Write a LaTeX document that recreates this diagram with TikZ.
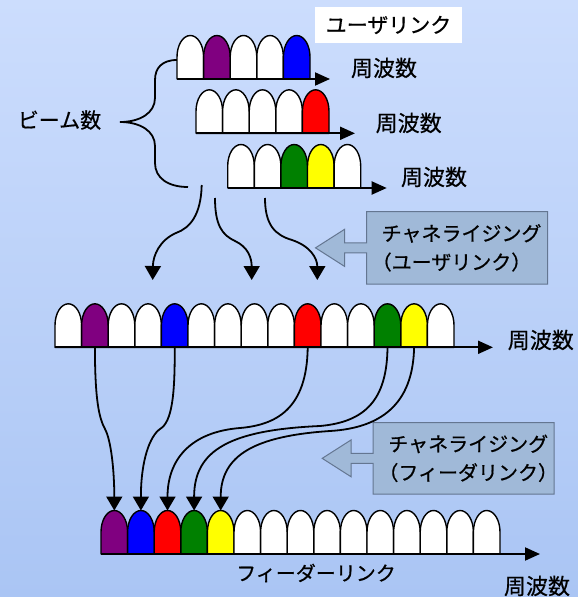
\documentclass[tikz,border=0pt]{standalone}
\usepackage{fontspec}
\setmainfont{Noto Sans CJK JP}[FakeBold=0.6]
\usetikzlibrary{arrows.meta,calc}
\definecolor{bgtop}{RGB}{204,221,253}
\definecolor{bgbot}{RGB}{170,197,244}
\definecolor{cpurple}{RGB}{128,0,128}
\definecolor{cblue}{RGB}{0,0,255}
\definecolor{cred}{RGB}{255,0,0}
\definecolor{cgreen}{RGB}{0,128,0}
\definecolor{cyellow}{RGB}{255,255,0}
\definecolor{callfill}{RGB}{160,185,216}
\definecolor{callline}{RGB}{100,118,145}
\newcommand\fsz[1]{\fontsize{#1}{#1}\selectfont}
\begin{document}
\begin{tikzpicture}[x=1pt,y=-1pt,
  pics/bump/.style={code={
    \path[draw=black,line width=1.4pt,fill=#1,line join=round]
      (0,0) -- (0,-22) .. controls (0,-34) and (6,-43.5) .. (13.3,-43.5)
      .. controls (20.6,-43.5) and (26.6,-34) .. (26.6,-22) -- (26.6,0) -- cycle;
    \coordinate (-top) at (13.3,-43.5);
    \coordinate (-bot) at (13.3,0);
  }},
  axisarrow/.style={line width=2pt,-{Triangle[width=13pt,length=15pt]}},
  conn/.style={line width=1.8pt,-{Triangle[width=16pt,length=14pt]}},
  lbl/.style={font=\fsz{22},inner sep=0pt},
  callbox/.style={minimum width=180.6pt,minimum height=72pt,inner sep=0pt},
  callshape/.style={fill=callfill,draw=callline,line width=1pt,line join=miter},
  calltext/.style={font={\fontsize{20}{28.7}\selectfont},align=left,inner sep=0pt,anchor=west},
]
\useasboundingbox (0,0) rectangle (578,597);
\shade[top color=bgtop,bottom color=bgbot] (0,0) rectangle (578,597);

% brace
\coordinate (brT) at (177,60);
\coordinate (brM) at (120,122);
\coordinate (brB) at (188,187);
\draw[line width=1.8pt] (brT) .. controls (162,60) and (155,68) .. (155,80) -- (155,98)
  .. controls (155,113) and (140,122) .. (brM)
  .. controls (140,122) and (155,131) .. (155,146) -- (155,163)
  .. controls (155,178) and (168,187) .. (brB);
\node[lbl,font=\fsz{21}] (beam) at (59.5,120) {ビーム数};

% user link rows
\foreach \c [count=\i from 0] in {white,cpurple,white,white,cblue}
  \pic (ua\i) at ({177+26.6*\i},79) {bump=\c};
\coordinate (a1s) at (177,79); \coordinate (a1e) at (330,79);
\draw[axisarrow] (a1s) -- (a1e);
\foreach \c [count=\i from 0] in {white,white,white,white,cred}
  \pic (ub\i) at ({196+26.6*\i},133.3) {bump=\c};
\coordinate (a2s) at (196,133.3); \coordinate (a2e) at (355,133.3);
\draw[axisarrow] (a2s) -- (a2e);
\foreach \c [count=\i from 0] in {white,white,cgreen,cyellow,white}
  \pic (uc\i) at ({227.7+26.6*\i},188) {bump=\c};
\coordinate (a3s) at (227.7,188); \coordinate (a3e) at (386.7,188);
\draw[axisarrow] (a3s) -- (a3e);

\node[fill=white,minimum width=147pt,minimum height=36pt,inner sep=0pt,font=\fsz{21}] (ul) at (388.5,25) {ユーザリンク};
\node[lbl] (f1) at (384,68) {周波数};
\node[lbl] (f2) at (408.7,123) {周波数};
\node[lbl] (f3) at (434,177) {周波数};

% curvy arrows to the middle row
\coordinate (sA) at (201.7,185); \coordinate (eA) at (152.7,280);
\coordinate (sB) at (215,198);   \coordinate (eB) at (251.7,280);
\coordinate (sC) at (265,198);   \coordinate (eC) at (317.3,280);
\draw[conn] (sA) .. controls (201,215) and (190,228) .. (176,233)
  .. controls (160,240) and (153,255) .. (eA);
\draw[conn] (sB) .. controls (215,225) and (222,235) .. (235,241)
  .. controls (248,247) and (251.7,258) .. (eB);
\draw[conn] (sC) .. controls (265,225) and (275,235) .. (292,240)
  .. controls (310,246) and (317.3,258) .. (eC);

% callout 1
\node[callbox] (cb1) at (457,247.85) {};
\path[callshape] (cb1.north west) -- (cb1.north east) -- (cb1.south east) -- (cb1.south west)
  -- ($(cb1.west)+(0,5)$) -- ($(cb1.west)+(-22,5)$) -- ($(cb1.west)+(-22,18.5)$)
  -- ($(cb1.west)+(-51,0)$) -- ($(cb1.west)+(-22,-18.5)$) -- ($(cb1.west)+(-22,-5)$)
  -- ($(cb1.west)+(0,-5)$) -- cycle;
\node[calltext] (ct1) at ($(cb1.west)+(15,0)$) {チャネライジング\\\leavevmode\kern-.5em（ユーザリンク）};

% middle row
\foreach \c [count=\i from 0] in {white,cpurple,white,white,cblue,white,white,white,white,cred,white,white,cgreen,cyellow,white}
  \pic (m\i) at ({55+26.6*\i},347.3) {bump=\c};
\coordinate (a4s) at (55,347.3); \coordinate (a4e) at (493,347.3);
\draw[axisarrow] (a4s) -- (a4e);
\node[lbl] (f4) at (540.8,340) {周波数};

% callout 2
\node[callbox,minimum height=71.3pt] (cb2) at (463.7,458.35) {};
\path[callshape] (cb2.north west) -- (cb2.north east) -- (cb2.south east) -- (cb2.south west)
  -- ($(cb2.west)+(0,5)$) -- ($(cb2.west)+(-22,5)$) -- ($(cb2.west)+(-22,18.5)$)
  -- ($(cb2.west)+(-51,0)$) -- ($(cb2.west)+(-22,-18.5)$) -- ($(cb2.west)+(-22,-5)$)
  -- ($(cb2.west)+(0,-5)$) -- cycle;
\node[calltext] (ct2) at ($(cb2.west)+(15,0)$) {チャネライジング\\\leavevmode\kern-.5em（フィーダリンク）};

% bottom row
\foreach \c [count=\i from 0] in {cpurple,cblue,cred,cgreen,cyellow,white,white,white,white,white,white,white,white,white,white}
  \pic (b\i) at ({101+26.6*\i},554) {bump=\c};
\coordinate (a5s) at (101,554); \coordinate (a5e) at (540,554);
\draw[axisarrow] (a5s) -- (a5e);
\node[font=\fsz{20},inner sep=0pt] (fl) at (316,573) {フィーダーリンク};
\node[lbl] (f5) at (537,586) {周波数};

% connectors middle -> bottom
\draw[conn] (m1-bot) .. controls (95,400) and (99,418) .. (105,429)
  .. controls (111,440) and (114.3,470) .. (b0-top);
\draw[conn] (m4-bot) .. controls (175,395) and (172,422) .. (160,429)
  .. controls (150,436) and (140.9,460) .. (b1-top);
\draw[conn] (m9-bot) .. controls (307,410) and (275,425) .. (240,428)
  .. controls (190,432) and (167.5,460) .. (b2-top);
\draw[conn] (m12-bot) .. controls (387,400) and (365,422) .. (320,426)
  .. controls (230,430) and (194.1,450) .. (b3-top);
\draw[conn] (m13-bot) .. controls (413,405) and (380,428) .. (330,431)
  .. controls (255,436) and (220.7,455) .. (b4-top);
\end{tikzpicture}
\end{document}
